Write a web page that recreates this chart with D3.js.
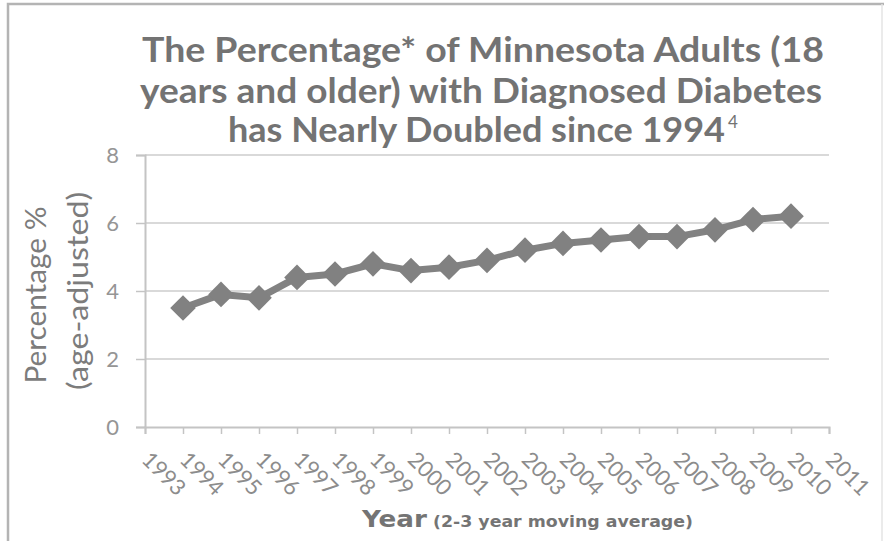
<!DOCTYPE html>
<html>
<head>
<meta charset="utf-8">
<script src="https://cdn.jsdelivr.net/npm/d3@7/dist/d3.min.js"></script>
<style>
  html, body { margin: 0; padding: 0; background: #ffffff; }
  svg { display: block; }
</style>
</head>
<body>
<svg id="chart" width="892" height="541"></svg>
<script>
// ---- data ----
const years = [1994, 1995, 1996, 1997, 1998, 1999, 2000, 2001, 2002, 2003, 2004, 2005, 2006, 2007, 2008, 2009, 2010];
const percentages = [3.5, 3.9, 3.8, 4.4, 4.5, 4.8, 4.6, 4.7, 4.9, 5.2, 5.4, 5.5, 5.6, 5.6, 5.8, 6.1, 6.2];
const axisYears = [1993, 1994, 1995, 1996, 1997, 1998, 1999, 2000, 2001, 2002, 2003, 2004, 2005, 2006, 2007, 2008, 2009, 2010, 2011];
const yTicks = [0, 2, 4, 6, 8];
const titleLines = ["The Percentage* of Minnesota  Adults (18", "years and older) with Diagnosed Diabetes", "has Nearly Doubled since 1994"];
const titleSup = "4";
const yTitleLines = ["Percentage %", "(age-adjusted)"];
const xTitleMain = "Year";
const xTitleSub = "(2-3 year moving average)";

const svg = d3.select("#chart");

// frame
svg.append("path").attr("d", "M8,545 L8,4 L884,4").attr("fill", "none")
  .attr("stroke", "#b4b4b4").attr("stroke-width", 2.5);
svg.append("line").attr("x1", 882).attr("x2", 882).attr("y1", 4).attr("y2", 545)
  .attr("stroke", "#e4e4e4").attr("stroke-width", 1.5);

const x = d3.scaleLinear().domain([1993, 2011]).range([145, 829]);
const y = d3.scaleLinear().domain([0, 8]).range([427, 155]);

// gridlines
svg.append("g").selectAll("line").data(yTicks.filter(d => d > 0)).join("line")
  .attr("x1", x(1993)).attr("x2", x(2011))
  .attr("y1", d => y(d)).attr("y2", d => y(d))
  .attr("stroke", "#d9d9d9").attr("stroke-width", 2);

// y axis
const yAxis = d3.axisLeft(y).tickValues(yTicks).tickSize(9).tickPadding(17).tickFormat(d3.format("d"));
const gy = svg.append("g").attr("transform", `translate(${x(1993)},0)`).call(yAxis);
gy.select(".domain").attr("stroke", "#c4c4c4").attr("stroke-width", 2);
gy.selectAll(".tick line").attr("stroke", "#c4c4c4").attr("stroke-width", 1.5);
gy.selectAll(".tick text").attr("fill", "#959595").style("font-family", "Lato, 'Open Sans', sans-serif")
  .style("font-size", "22px").attr("dy", "0.36em");

// x axis
const xAxis = d3.axisBottom(x).tickValues(axisYears).tickSize(7).tickFormat(d => String(d));
const gx = svg.append("g").attr("transform", `translate(0,${y(0)})`).call(xAxis);
gx.select(".domain").attr("stroke", "#c4c4c4").attr("stroke-width", 2);
gx.selectAll(".tick line").attr("stroke", "#c4c4c4").attr("stroke-width", 1.5);
gx.selectAll(".tick text")
  .attr("fill", "#8c8c8c")
  .style("font-family", "Lato, 'Open Sans', sans-serif")
  .style("font-size", "22px")
  .attr("text-anchor", "start")
  .attr("y", 0).attr("dy", 0)
  .attr("transform", "translate(-5,34) rotate(45)");

// line + markers
const line = d3.line().x((d, i) => x(years[i])).y(d => y(d));
svg.append("path").datum(percentages).attr("d", line)
  .attr("fill", "none").attr("stroke", "#828282").attr("stroke-width", 7).attr("stroke-linejoin", "round");

const diamond = d3.symbol().type(d3.symbolDiamond2).size(2 * 14.5 * 14.5);
svg.append("g").selectAll("path").data(percentages).join("path")
  .attr("d", diamond)
  .attr("transform", (d, i) => `translate(${x(years[i])},${y(d)})`)
  .attr("fill", "#818181");

// title
const titleG = svg.append("g").attr("fill", "#737373")
  .style("font-family", "Lato, 'Open Sans', sans-serif").style("font-weight", "bold").style("font-size", "34px");
titleG.append("text").attr("x", 142).attr("y", 62).attr("textLength", 682).attr("lengthAdjust", "spacingAndGlyphs").text(titleLines[0]);
titleG.append("text").attr("x", 140).attr("y", 103).attr("textLength", 682).attr("lengthAdjust", "spacingAndGlyphs").text(titleLines[1]);
const t3 = titleG.append("text").attr("x", 228).attr("y", 142);
t3.append("tspan").attr("textLength", 497).attr("lengthAdjust", "spacingAndGlyphs").text(titleLines[2]);
t3.append("tspan").attr("dx", 3).attr("dy", -14).style("font-size", "17px").style("font-weight", "normal").text(titleSup);

// y title
const yt = svg.append("g").attr("fill", "#7c7c7c")
  .style("font-family", "Lato, 'Open Sans', sans-serif").style("font-size", "29px");
yt.append("text").attr("transform", "translate(46,295) rotate(-90)").attr("text-anchor", "middle")
  .attr("textLength", 177).attr("lengthAdjust", "spacingAndGlyphs").text(yTitleLines[0]);
yt.append("text").attr("transform", "translate(88,291) rotate(-90)").attr("text-anchor", "middle")
  .attr("textLength", 198).attr("lengthAdjust", "spacingAndGlyphs").text(yTitleLines[1]);

// x title
const xt = svg.append("g").attr("fill", "#747474").style("font-family", "'DejaVu Sans', Verdana, sans-serif").style("font-weight", "bold");
xt.append("text").attr("x", 362).attr("y", 527).style("font-size", "23px")
  .attr("textLength", 65).attr("lengthAdjust", "spacingAndGlyphs").text(xTitleMain);
xt.append("text").attr("x", 433).attr("y", 527).style("font-size", "15px")
  .attr("textLength", 260).attr("lengthAdjust", "spacingAndGlyphs").text(xTitleSub);
</script>
</body>
</html>
